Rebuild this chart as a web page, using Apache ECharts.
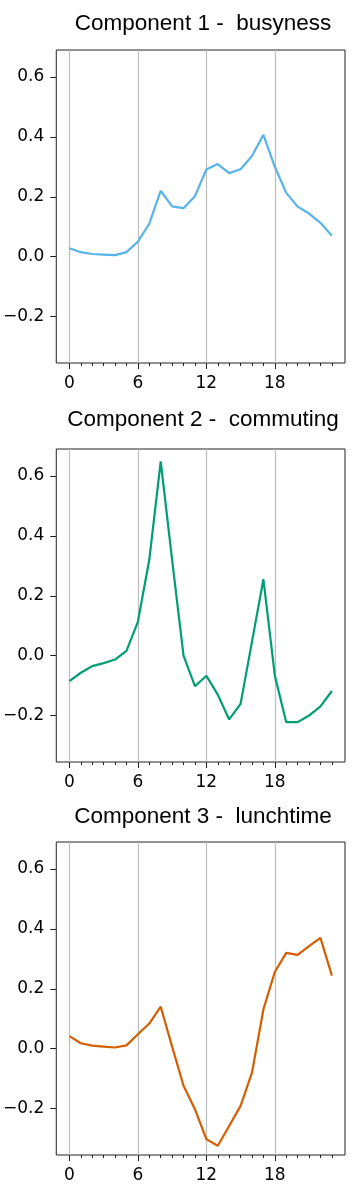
<!DOCTYPE html>
<html>
<head>
<meta charset="utf-8">
<script src="https://cdn.jsdelivr.net/npm/echarts@6/dist/echarts.min.js"></script>
<style>
html,body{margin:0;padding:0;background:#fff;}
#main{width:352px;height:1196px;}
</style>
</head>
<body>
<div id="main"></div>
<script>
// hours 0..23
var hours = [0,1,2,3,4,5,6,7,8,9,10,11,12,13,14,15,16,17,18,19,20,21,22,23];
var titles = ['Component 1 -  busyness', 'Component 2 -  commuting', 'Component 3 -  lunchtime'];
var colors = ['#56B4E9', '#009E73', '#D55E00'];

var comp1 = [0.028,0.015,0.009,0.007,0.005,0.015,0.05,0.11,0.22,0.168,0.162,0.202,
             0.291,0.309,0.279,0.292,0.336,0.407,0.30,0.213,0.167,0.144,0.113,0.07];
var comp2 = [-0.085,-0.057,-0.035,-0.025,-0.013,0.016,0.113,0.32,0.649,0.32,0.0,-0.102,
             -0.067,-0.13,-0.213,-0.161,0.047,0.255,-0.066,-0.222,-0.222,-0.20,-0.169,-0.118];
var comp3 = [0.042,0.018,0.01,0.007,0.004,0.011,0.048,0.084,0.14,0.007,-0.124,-0.202,
             -0.302,-0.324,-0.258,-0.191,-0.08,0.131,0.256,0.32,0.313,0.342,0.37,0.244];

var xTicks = [0, 6, 12, 18];
var yTicks = [-0.2, 0, 0.2, 0.4, 0.6];

var allData = [comp1, comp2, comp3];
var gridTops = [50, 449, 842];
var gridH = 313;
var titleTops = [7, 403, 800];

var myChart = echarts.init(document.getElementById('main'));

var grid = [], xAxis = [], yAxis = [], series = [], title = [];
for (var i = 0; i < 3; i++) {
    grid.push({
        left: 55, top: gridTops[i], width: 290, height: gridH,
        show: true, borderColor: '#222', borderWidth: 1, backgroundColor: 'transparent'
    });
    title.push({
        text: titles[i], left: 198, top: titleTops[i], textAlign: 'center',
        textStyle: {fontFamily: 'Liberation Sans', fontSize: 22.5, fontWeight: 'normal', color: '#000'}
    });
    // main x axis: labels, major ticks, grid lines
    xAxis.push({
        type: 'value', gridIndex: i, min: -1.15, max: 24.15,
        axisLine: {show: false, onZero: false},
        axisTick: {show: true, length: 6, customValues: xTicks, lineStyle: {color: '#222'}},
        axisLabel: {show: true, customValues: xTicks, margin: 12, color: '#000',
            fontFamily: 'DejaVu Sans', fontSize: 17},
        splitLine: {show: true, lineStyle: {color: '#bdbdbd', width: 1.2}}
    });
    // minor hour ticks
    xAxis.push({
        type: 'value', gridIndex: i, min: -1.15, max: 24.15, position: 'bottom',
        axisLine: {show: false, onZero: false},
        axisTick: {show: true, length: 3, customValues: hours, lineStyle: {color: '#222'}},
        axisLabel: {show: false},
        splitLine: {show: false}
    });
    yAxis.push({
        type: 'value', gridIndex: i, min: -0.355, max: 0.69,
        axisLine: {show: false, onZero: false},
        axisTick: {show: true, length: 6, customValues: yTicks, lineStyle: {color: '#222'}},
        axisLabel: {show: true, customValues: yTicks, margin: 12, color: '#000',
            fontFamily: 'DejaVu Sans', fontSize: 17,
            formatter: function (v) {
                var s = Math.abs(v).toFixed(1);
                return v < -1e-9 ? '\u2212' + s : s;
            }},
        splitLine: {show: false}
    });
    var pts = [];
    for (var k = 0; k < hours.length; k++) pts.push([hours[k], allData[i][k]]);
    series.push({
        type: 'line', xAxisIndex: i * 2, yAxisIndex: i, data: pts,
        showSymbol: false, symbol: 'none', animation: false,
        lineStyle: {color: colors[i], width: 2.2}
    });
}

myChart.setOption({
    animation: false,
    title: title,
    grid: grid,
    xAxis: xAxis,
    yAxis: yAxis,
    series: series
});
</script>
</body>
</html>
